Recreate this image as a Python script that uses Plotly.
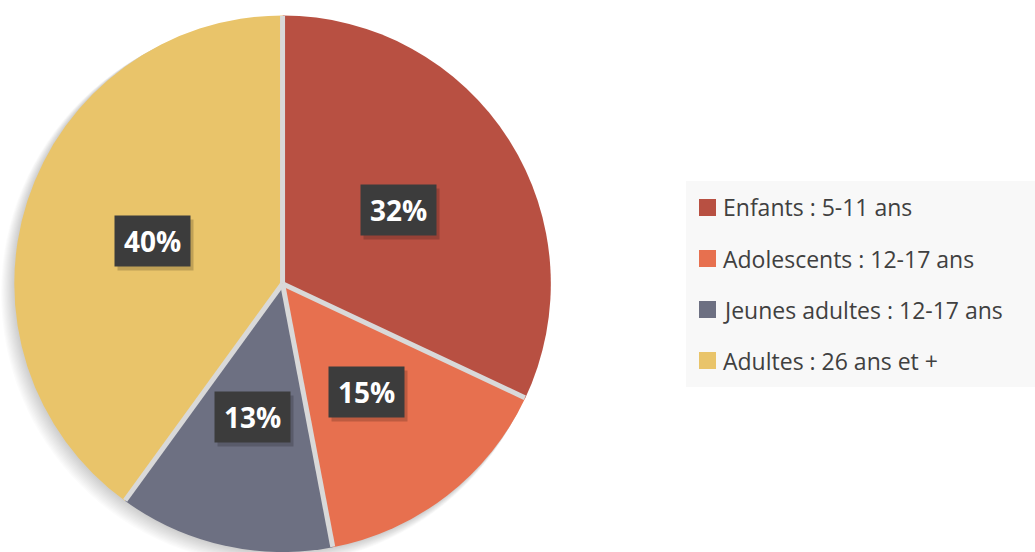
import math
import plotly.graph_objects as go

labels = ["Enfants : 5-11 ans", "Adolescents : 12-17 ans",
          "Jeunes adultes : 12-17 ans", "Adultes : 26 ans et +"]
values = [32, 15, 13, 40]
colors = ["#B85042", "#E7704F", "#6D7082", "#E9C46A"]

W, H = 1035, 552
# pie domain (paper fractions)
dom_x = [0.0, 0.546]
dom_y = [0.0, 0.972]

fig = go.Figure()
fig.add_trace(go.Pie(
    labels=labels, values=values, sort=False, direction="clockwise",
    rotation=0, marker=dict(colors=colors, line=dict(width=0)),
    textinfo="none", hoverinfo="label+percent", showlegend=False,
    domain=dict(x=dom_x, y=dom_y),
))

# geometry of the pie in pixels (for shadow, separators and label boxes)
wpx = (dom_x[1] - dom_x[0]) * W
hpx = (dom_y[1] - dom_y[0]) * H
r = min(wpx, hpx) / 2
cx = (dom_x[0] + dom_x[1]) / 2 * W
cy = H - (dom_y[0] + dom_y[1]) / 2 * H  # from top

def px(x):
    return x / W

def py(y):
    return 1 - y / H

shapes = []
# soft shadow (lower-left)
for d in range(1, 13):
    shapes.append(dict(type="circle", xref="paper", yref="paper", layer="below",
                       x0=px(cx - d * 0.8 - r - d * 0.3), x1=px(cx - d * 0.8 + r + d * 0.3),
                       y0=py(cy + d * 0.8 + r + d * 0.3), y1=py(cy + d * 0.8 - r - d * 0.3),
                       fillcolor="rgba(0,0,0,0.014)", line=dict(width=0)))

annotations = []
total = sum(values)
cum = 0
for v in values:
    start = cum / total * 2 * math.pi
    mid = (cum + v / 2) / total * 2 * math.pi
    cum += v
    # radial separator at slice start
    shapes.append(dict(type="line", xref="paper", yref="paper", layer="above",
                       x0=px(cx), y0=py(cy),
                       x1=px(cx + (r - 0.5) * math.sin(start)),
                       y1=py(cy - (r - 0.5) * math.cos(start)),
                       line=dict(color="#D9D9D9", width=5)))
    lx = cx + 0.51 * r * math.sin(mid)
    ly = cy - 0.51 * r * math.cos(mid)
    # drop shadow of label box
    annotations.append(dict(x=px(lx + 3), y=py(ly + 4), xref="paper", yref="paper",
                            xanchor="center", yanchor="middle",
                            text=" ", showarrow=False, width=73, height=48,
                            bgcolor="rgba(0,0,0,0.18)"))
    annotations.append(dict(x=px(lx), y=py(ly), xref="paper", yref="paper",
                            xanchor="center", yanchor="middle",
                            text=f"<b>{round(v / total * 100)}%</b>", showarrow=False,
                            width=73, height=48, bgcolor="#3C3C3C",
                            font=dict(family="Open Sans", size=28, color="white")))

# legend drawn manually
shapes.append(dict(type="rect", xref="paper", yref="paper", layer="below",
                   x0=px(686), x1=1, y0=py(387), y1=py(181),
                   fillcolor="#F8F8F8", line=dict(width=0)))
row_y = [207.5, 258.5, 309.5, 360.5]
for lab, col, yy in zip(labels, colors, row_y):
    shapes.append(dict(type="rect", xref="paper", yref="paper",
                       x0=px(699), x1=px(716), y0=py(yy + 8.5), y1=py(yy - 8.5),
                       fillcolor=col, line=dict(width=0)))
    annotations.append(dict(x=px(721), y=py(yy), xref="paper", yref="paper",
                            xanchor="left", yanchor="middle", text=lab,
                            showarrow=False,
                            font=dict(family="Open Sans", size=23, color="#404040")))

fig.update_layout(
    width=W, height=H, margin=dict(l=0, r=0, t=0, b=0),
    paper_bgcolor="white", plot_bgcolor="white",
    shapes=shapes, annotations=annotations, showlegend=False,
)
fig.write_html("out.html", config={"displayModeBar": False},
               post_script="document.body.style.margin='0px';document.body.style.overflow='hidden';")
